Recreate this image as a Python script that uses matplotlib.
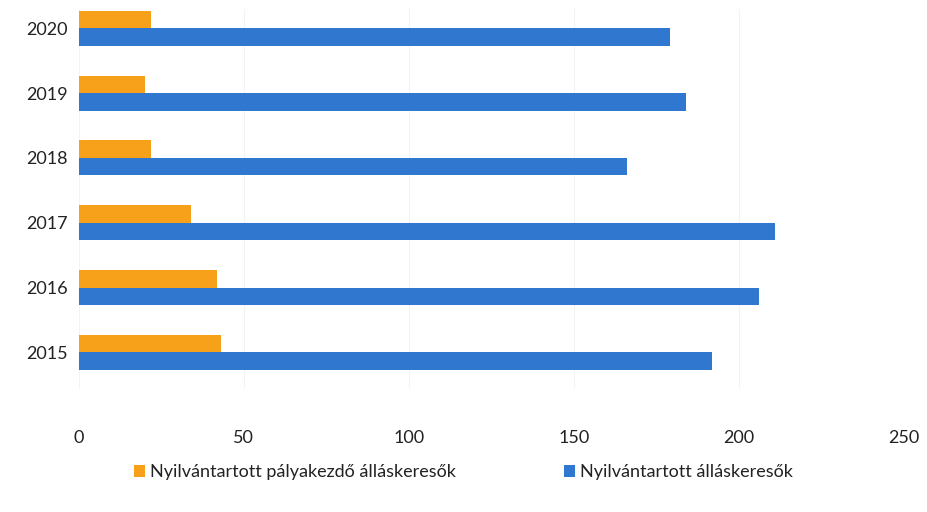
import numpy as np
import matplotlib
matplotlib.use("Agg")
import matplotlib.pyplot as plt

plt.rcParams['font.family'] = ['Lato', 'DejaVu Sans']

years = ["2015", "2016", "2017", "2018", "2019", "2020"]
palyakezdo = [43, 42, 34, 22, 20, 22]
osszes = [192, 206, 211, 166, 184, 179]
xticks = [0, 50, 100, 150, 200, 250]

orange = "#F7A11A"
blue = "#2F77CF"

fig, ax = plt.subplots(figsize=(9.27, 5.12), dpi=100)
fig.subplots_adjust(left=0.085, right=0.975, top=0.983, bottom=0.242)

y = np.arange(len(years))
h = 0.27
ax.barh(y + h / 2, palyakezdo, height=h, color=orange,
        label="Nyilvántartott pályakezdő álláskeresők", zorder=3)
ax.barh(y - h / 2, osszes, height=h, color=blue,
        label="Nyilvántartott álláskeresők", zorder=3)

ax.set_yticks(y)
ax.set_yticklabels(years, fontsize=13, color="#222222")
ax.set_xticks(xticks)
ax.set_xticklabels([str(t) for t in xticks], fontsize=13, color="#222222")
ax.set_xlim(0, 250)
ax.set_ylim(-0.55, len(years) - 0.7)
ax.tick_params(length=0, pad=8)
ax.tick_params(axis="x", pad=30)
ax.xaxis.grid(True, color="#f3f3f3", linewidth=0.8, zorder=0)
for s in ax.spines.values():
    s.set_visible(False)

leg = fig.legend(loc="lower center", ncol=2, frameon=False, fontsize=13,
                 bbox_to_anchor=(0.5, 0.03), handlelength=0.6, handleheight=0.6,
                 handletextpad=0.3, columnspacing=6)
for t in leg.get_texts():
    t.set_color("#222222")

fig.savefig("out.png", dpi=100)
